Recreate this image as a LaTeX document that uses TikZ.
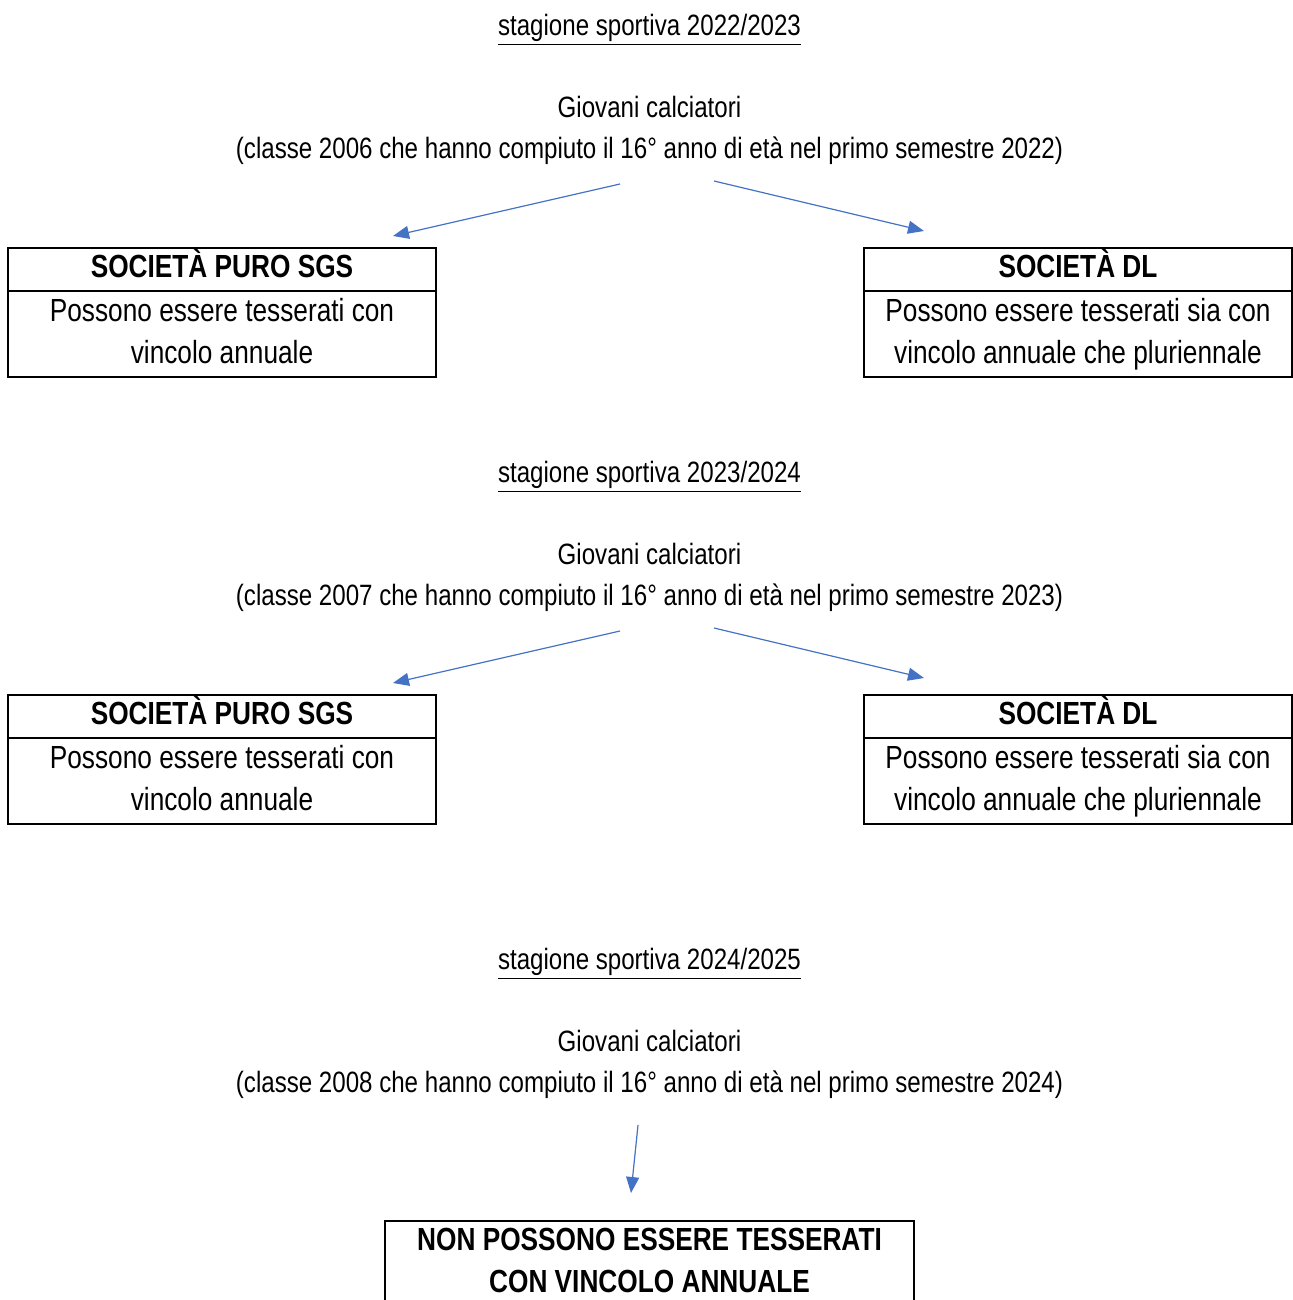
\documentclass[tikz,border=0pt]{standalone}
\usepackage{fontspec}
\setmainfont{Liberation Sans}[FakeStretch=0.82]
\usetikzlibrary{arrows.meta}
\definecolor{arrowblue}{HTML}{4472C4}
\tikzset{
	plain text/.style={inner sep=0, align=center, font=\fontsize{14.7}{20.5}\selectfont},
	box head/.style={draw, line width=0.9pt, inner sep=0, outer sep=0, minimum width=214pt, minimum height=21.5pt, text height=11.5pt, text depth=3.5pt, font=\fontsize{16}{21}\selectfont\bfseries},
	box body/.style={draw, line width=0.9pt, inner sep=0, outer sep=0, align=center, minimum width=214pt, minimum height=43pt, text height=32.5pt, text depth=3pt, font=\fontsize{16}{21}\selectfont},
	arrow link/.style={draw=arrowblue, line width=0.6pt, -{Triangle[length=8pt, width=6.5pt]}}
}
\begin{document}
\begin{tikzpicture}[x=0.5pt, y=-0.5pt]
	\useasboundingbox (0, 0) rectangle (1293, 1300);
	% Season 2022/2023:
	\node[plain text] (season1) at (649.5, 30) {\underline{stagione sportiva 2022/2023}};
	\node[plain text] (young1) at (649.5, 130) {Giovani calciatori\\(classe 2006 che hanno compiuto il 16° anno di età nel primo semestre 2022)};
	\node[box head, anchor=north west] (sgshead1) at (8, 248) {SOCIETÀ PURO SGS};
	\node[box body, anchor=north] (sgsbody1) at (sgshead1.south) {Possono essere tesserati con\\vincolo annuale};
	\node[box head, anchor=north west] (dlhead1) at (864, 248) {SOCIETÀ DL};
	\node[box body, anchor=north] (dlbody1) at (dlhead1.south) {Possono essere tesserati sia con\\vincolo annuale che pluriennale};
	\coordinate (l1a) at (620, 184); \coordinate (l1b) at (393, 236);
	\coordinate (r1a) at (714, 181); \coordinate (r1b) at (924, 231);
	\draw[arrow link] (l1a) -- (l1b);
	\draw[arrow link] (r1a) -- (r1b);
	% Season 2023/2024:
	\node[plain text] (season2) at (649.5, 477) {\underline{stagione sportiva 2023/2024}};
	\node[plain text] (young2) at (649.5, 577) {Giovani calciatori\\(classe 2007 che hanno compiuto il 16° anno di età nel primo semestre 2023)};
	\node[box head, anchor=north west] (sgshead2) at (8, 695) {SOCIETÀ PURO SGS};
	\node[box body, anchor=north] (sgsbody2) at (sgshead2.south) {Possono essere tesserati con\\vincolo annuale};
	\node[box head, anchor=north west] (dlhead2) at (864, 695) {SOCIETÀ DL};
	\node[box body, anchor=north] (dlbody2) at (dlhead2.south) {Possono essere tesserati sia con\\vincolo annuale che pluriennale};
	\coordinate (l2a) at (620, 631); \coordinate (l2b) at (393, 683);
	\coordinate (r2a) at (714, 628); \coordinate (r2b) at (924, 678);
	\draw[arrow link] (l2a) -- (l2b);
	\draw[arrow link] (r2a) -- (r2b);
	% Season 2024/2025:
	\node[plain text] (season3) at (649.5, 964) {\underline{stagione sportiva 2024/2025}};
	\node[plain text] (young3) at (649.5, 1064) {Giovani calciatori\\(classe 2008 che hanno compiuto il 16° anno di età nel primo semestre 2024)};
	\node[box body, anchor=north, minimum width=264.5pt, inner ysep=3.25pt, text height=32.5pt, text depth=35pt, font=\fontsize{16}{21}\selectfont\bfseries] (nobox) at (649.5, 1221) {NON POSSONO ESSERE TESSERATI\\CON VINCOLO ANNUALE};
	\coordinate (d3a) at (638, 1125); \coordinate (d3b) at (631, 1193);
	\draw[arrow link] (d3a) -- (d3b);
\end{tikzpicture}
\end{document}
